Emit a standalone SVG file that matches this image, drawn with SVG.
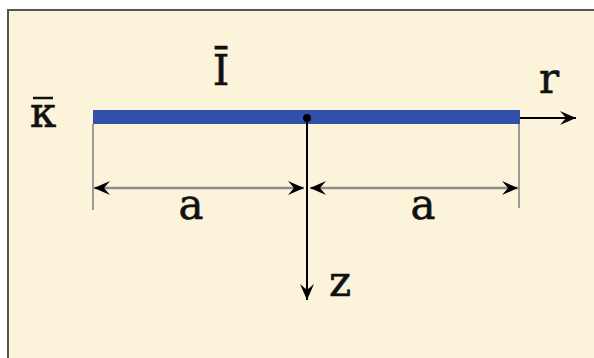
<svg xmlns="http://www.w3.org/2000/svg" width="594" height="358" viewBox="0 0 594 358">
  <style>
    .ext { stroke: #9a9a96; stroke-width: 2; fill: none; }
    .dim { stroke: #8c8c88; stroke-width: 2.5; fill: none; }
    .axis { stroke: #000; stroke-width: 2; fill: none; }
    .lbl { font-family: 'DejaVu Serif', 'Liberation Serif', serif; font-size: 42px; fill: #111; stroke: #111; stroke-width: 0.6; text-anchor: middle; }
  </style>
  <defs>
    <marker id="arr" viewBox="-17 -8 19 16" refX="0" refY="0" markerWidth="19" markerHeight="16" markerUnits="userSpaceOnUse" orient="auto-start-reverse">
      <path d="M0,0 L-16,-7 L-10,0 L-16,7 Z" fill="#000"/>
    </marker>
  </defs>
  <rect x="0" y="0" width="594" height="358" fill="#ffffff"/>
  <rect x="8" y="10" width="600" height="360" fill="#FBF3DA" stroke="#555" stroke-width="2"/>

  <g id="bar">
    <rect x="93" y="110" width="427" height="14" fill="#3050ac"/>
  </g>

  <g id="connectors">
    <line class="ext" x1="93" y1="124" x2="93" y2="210"/>
    <line class="ext" x1="519" y1="124" x2="519" y2="208"/>
    <line class="dim" x1="94" y1="188" x2="304" y2="188" marker-start="url(#arr)" marker-end="url(#arr)"/>
    <line class="dim" x1="310" y1="188" x2="518" y2="188" marker-start="url(#arr)" marker-end="url(#arr)"/>
    <line class="axis" x1="307" y1="118" x2="307" y2="300" marker-end="url(#arr)"/>
    <line class="axis" x1="520" y1="118" x2="576" y2="118" marker-end="url(#arr)"/>
  </g>

  <g id="origin">
    <circle cx="307" cy="118" r="4" fill="#000"/>
  </g>

  <g id="labels">
    <text id="label-I" class="lbl" x="221" y="85">Ī</text>
    <g id="label-kappa">
      <text class="lbl" x="43" y="127">κ</text>
      <line x1="33" y1="98" x2="53" y2="98" stroke="#111" stroke-width="2.5"/>
    </g>
    <text id="label-r" class="lbl" x="549" y="93">r</text>
    <text id="label-z" class="lbl" x="340" y="296">z</text>
    <text id="label-a1" class="lbl" x="191" y="219">a</text>
    <text id="label-a2" class="lbl" x="423" y="219">a</text>
  </g>
</svg>
